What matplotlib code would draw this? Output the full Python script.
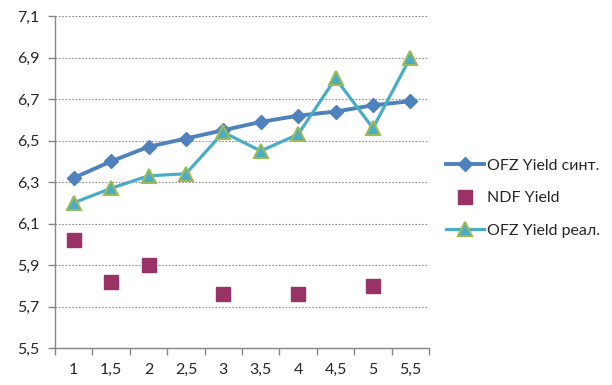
import numpy as np
import matplotlib
matplotlib.use("Agg")
import matplotlib.pyplot as plt

# maturity buckets and yields
cats = ["1", "1,5", "2", "2,5", "3", "3,5", "4", "4,5", "5", "5,5"]
ofz_synth = [6.32, 6.40, 6.47, 6.51, 6.55, 6.59, 6.62, 6.64, 6.67, 6.69]
ndf = [6.02, 5.82, 5.90, np.nan, 5.76, np.nan, 5.76, np.nan, 5.80, np.nan]
ofz_real = [6.20, 6.27, 6.33, 6.34, 6.54, 6.45, 6.53, 6.80, 6.56, 6.90]
yticks = [5.5, 5.7, 5.9, 6.1, 6.3, 6.5, 6.7, 6.9, 7.1]

plt.rcParams['font.family'] = ['Lato', 'DejaVu Sans']
fs = 11.5

fig = plt.figure(figsize=(6.12, 3.85), dpi=100)
ax = fig.add_axes([0.0899, 0.0961, 0.6111, 0.862])

x = np.arange(len(cats))
ax.plot(x, ofz_synth, color='#4F81BD', lw=2.8, marker='D', ms=7.2,
        mfc='#4F81BD', mec='#4F81BD', label='OFZ Yield синт.', zorder=3)
ax.plot(x, ndf, ls='none', marker='s', ms=9.5, mfc='#993366', mec='#993366',
        label='NDF Yield', zorder=3)
ax.plot(x, ofz_real, color='#4BACC6', lw=2.3, marker='^', ms=10,
        mfc='#4BACC6', mec='#9BBB59', mew=1.5, label='OFZ Yield реал.', zorder=4)

ax.set_xlim(-0.5, len(cats) - 0.5)
ax.set_ylim(5.5, 7.1)
ax.set_yticks(yticks)
ax.set_yticklabels([f"{v:.1f}".replace('.', ',') for v in yticks])
ax.set_xticks(x)
ax.set_xticklabels(cats)
ax.set_xticks(np.arange(-0.5, len(cats)), minor=True)
ax.tick_params(axis='x', which='major', length=0, pad=11, labelsize=fs, colors='#262626')
ax.tick_params(axis='x', which='minor', length=5, color='#868686', width=1)
ax.tick_params(axis='y', length=5, color='#868686', width=1, pad=6,
               labelsize=fs, labelcolor='#262626')

ax.grid(axis='y', color='#8C8C8C', ls=(0, (1.5, 1.5)), lw=0.8)
ax.set_axisbelow(True)
for side in ['top', 'right']:
    ax.spines[side].set_visible(False)
for side in ['left', 'bottom']:
    ax.spines[side].set_color('#868686')
    ax.spines[side].set_linewidth(1)

fig.legend(loc='upper left', bbox_to_anchor=(0.705, 0.625), frameon=False,
           fontsize=fs, handlelength=2.4, handletextpad=0.15, labelspacing=1.15,
           labelcolor='#262626')

fig.savefig('out.png', dpi=100)
